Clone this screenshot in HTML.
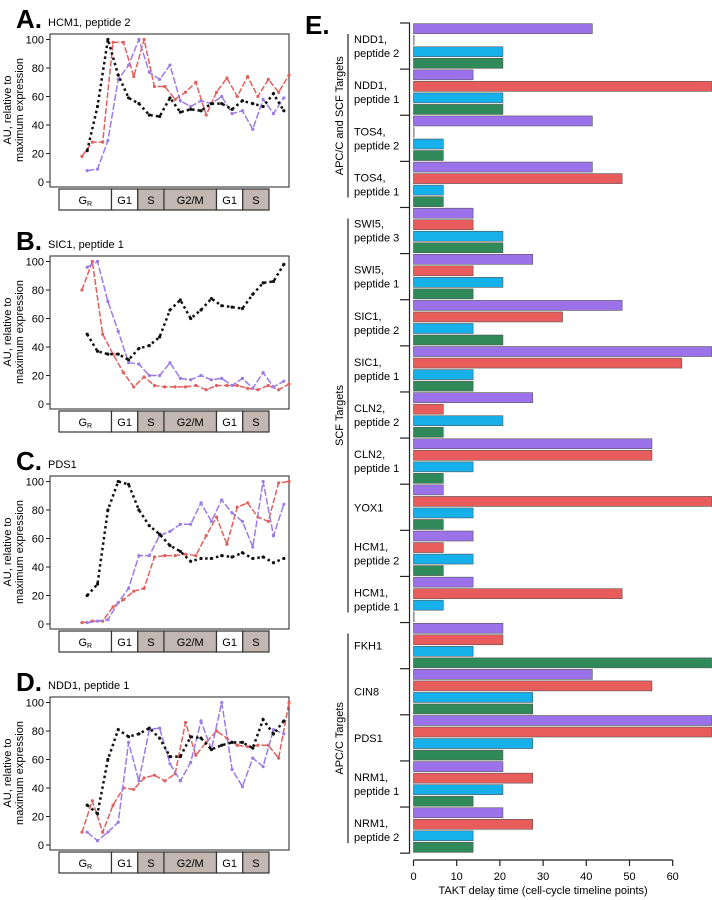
<!DOCTYPE html>
<html><head><meta charset="utf-8"><style>
html,body{margin:0;padding:0;background:#fff;}
svg{display:block;font-family:"Liberation Sans",Arial,sans-serif;}
</style></head><body>
<svg id="fig" width="712" height="900" viewBox="0 0 712 900" xmlns="http://www.w3.org/2000/svg"></svg>
<script>
// ---------- Line panel data (AU relative to maximum expression) ----------
const panelTitles = ["HCM1, peptide 2","SIC1, peptide 1","PDS1","NDD1, peptide 1"];
const panelLetters = ["A.","B.","C.","D."];
const yTicks = [0,20,40,60,80,100];
const phaseLabels = ["G","G1","S","G2/M","G1","S"];
const phaseSpans = [3,1.5,1.5,3,1.5,1.5];
const phaseShaded = [0,0,1,1,0,1];
// series: red starts at time 0, purple and black start at time 0.5
const aRed = [18,28,28,98,98,74,100,67,67,58,63,70,47,63,73,60,74,60,72,63,75];
const aPurple = [8,9,29,72,82,100,77,72,82,57,53,57,55,60,48,50,37,58,48,59];
const aBlack = [22,53,100,75,59,55,47,46,59,49,51,50,55,55,51,57,55,53,62,50];
const bRed = [80,100,49,35,22,12,19,13,12,12,12,13,10,13,13,13,11,10,13,10,14];
const bPurple = [96,100,72,51,29,28,20,20,29,18,17,20,17,18,13,18,11,22,12,16];
const bBlack = [49,37,35,35,31,39,41,47,66,73,60,66,74,69,68,67,77,85,86,98];
const cRed = [1,2,2,12,17,23,25,47,48,48,49,48,62,75,56,82,85,75,72,99,100];
const cPurple = [1,2,3,15,25,48,48,62,65,70,70,85,72,87,78,72,54,100,62,84];
const cBlack = [20,28,80,100,98,80,69,63,55,51,44,46,46,48,47,50,46,47,43,46];
const dRed = [9,31,9,28,40,39,47,49,45,50,86,63,72,80,75,70,69,70,70,61,100];
const dPurple = [9,3,9,16,72,45,81,82,57,45,58,87,67,100,53,41,61,55,81,78];
const dBlack = [28,22,60,81,76,78,82,75,62,62,76,75,67,70,72,72,68,88,78,87];

// ---------- Bar chart data (TAKT delay time) ----------
const groupLabels = [["NDD1,","peptide 2"],["NDD1,","peptide 1"],["TOS4,","peptide 2"],["TOS4,","peptide 1"],
 ["SWI5,","peptide 3"],["SWI5,","peptide 1"],["SIC1,","peptide 2"],["SIC1,","peptide 1"],["CLN2,","peptide 2"],
 ["CLN2,","peptide 1"],["YOX1"],["HCM1,","peptide 2"],["HCM1,","peptide 1"],["FKH1"],["CIN8"],["PDS1"],
 ["NRM1,","peptide 1"],["NRM1,","peptide 2"]];
const purpleDelay = [41.4,13.8,41.4,41.4,13.8,27.6,48.3,69,27.6,55.2,6.9,13.8,13.8,20.7,41.4,69,20.7,20.7];
const redDelay    = [0,69,0,48.3,13.8,13.8,34.5,62.1,6.9,55.2,69,6.9,48.3,20.7,55.2,69,27.6,27.6];
const blueDelay   = [20.7,20.7,6.9,6.9,20.7,20.7,13.8,13.8,20.7,13.8,13.8,13.8,6.9,13.8,27.6,27.6,20.7,13.8];
const greenDelay  = [20.7,20.7,6.9,6.9,20.7,13.8,20.7,13.8,6.9,6.9,6.9,6.9,0,69,27.6,20.7,13.8,13.8];
const xTicks = [0,10,20,30,40,50,60];
const sections = [["APC/C and SCF Targets",0,4],["SCF Targets",4,13],["APC/C Targets",13,18]];

const NS="http://www.w3.org/2000/svg";
const svg=document.getElementById('fig');
function el(tag,attrs,parent,text){const e=document.createElementNS(NS,tag);for(const k in attrs)e.setAttribute(k,attrs[k]);if(text!==undefined)e.textContent=text;(parent||svg).appendChild(e);return e;}

const panelTops=[34,256,476,697];
const seriesSets=[[aRed,aPurple,aBlack],[bRed,bPurple,bBlack],[cRed,cPurple,cBlack],[dRed,dPurple,dBlack]];
const FX0=50,FX1=289,X0=82,XSTEP=10.35;
panelTops.forEach((top,p)=>{
  const g=el('g',{});
  
  
  const bottom=top+153, y100=top+5.5, y0=top+148;
  const ys=v=>y0-(y0-y100)*v/100;
  const xs=t=>X0+t*XSTEP;
  const L=el('text',{x:16,y:top-6,'font-size':26,'font-weight':'bold'},g,panelLetters[p]);
  
  const T=el('text',{x:48,y:top-8,'font-size':11},g,panelTitles[p]);
  
  const yl=el('text',{transform:`translate(11,${top+76}) rotate(-90)`,'text-anchor':'middle','font-size':11},g);
  
  el('tspan',{x:0,dy:0},yl,'AU, relative to');el('tspan',{x:0,dy:12},yl,'maximum expression');
  el('rect',{x:FX0,y:top,width:FX1-FX0,height:153,fill:'none',stroke:'#222','stroke-width':1},g);
  yTicks.forEach(v=>{
    el('line',{x1:FX0-4,x2:FX0,y1:ys(v),y2:ys(v),stroke:'#222'},g);
    const t=el('text',{x:FX0-6,y:ys(v)+4,'text-anchor':'end','font-size':11},g,String(v));
    
  });
  // phase bar
  let px=59; const unit=(269-59)/12;
  phaseLabels.forEach((lab,i)=>{
    const w=phaseSpans[i]*unit;
    const r=el('rect',{x:px,y:bottom+2,width:w,height:21,fill:phaseShaded[i]?'#c3b7b1':'#fff',stroke:'#333','stroke-width':1.2},g);
    
    const t=el('text',{x:px+w/2,y:bottom+17,'text-anchor':'middle','font-size':11},g,lab);
    if(i===0){el('tspan',{'font-size':7,dy:2},t,'R');}
    px+=w;
  });
  const [red,purple,black]=seriesSets[p];
  const draw=(arr,start,color,w,dash,name)=>{
    const pts=arr.map((v,i)=>xs(start+i).toFixed(1)+','+ys(v).toFixed(1)).join(' ');
    const pl=el('polyline',{points:pts,fill:'none',stroke:color,'stroke-width':w,'stroke-dasharray':dash},g);
    
    arr.forEach((v,i)=>el('circle',{cx:xs(start+i),cy:ys(v),r:1.6,fill:color},g));
  };
  draw(red,0,'#e0605e',1.5,'6,2','series-red');
  draw(purple,0.5,'#9c7ce2',1.5,'7,2','series-purple');
  draw(black,0.5,'#111',2.5,'2.5,3','series-black');
});

// ---------- Bar chart ----------
const bc=el('g',{});
const BX0=413.5,BSC=4.32,BTOP=23,STEP=11.53,BH=10;
const bx=v=>BX0+v*BSC;
el('text',{x:305,y:34,'font-size':26,'font-weight':'bold'},bc,'E.');
const colors=['#9c72ea','#e85c5c','#16b0ea','#2f8958'];
const series=[purpleDelay,redDelay,blueDelay,greenDelay];
const names=['purple','red','blue','green'];
groupLabels.forEach((lab,gi)=>{
  const gy=BTOP+gi*4*STEP;
  series.forEach((arr,si)=>{
    const v=arr[gi];
    const r=el('rect',{x:BX0,y:gy+si*STEP+0.7,width:Math.max(bx(v)-BX0,0.8),height:BH,fill:colors[si],stroke:v>0?'#555':'#888','stroke-width':0.6},bc);
    
  });
  const cy=gy+2*STEP;
  const t=el('text',{x:354,y:lab.length>1?cy-3:cy+4,'font-size':11},bc);
  
  lab.forEach((s,i)=>el('tspan',{x:354,dy:i?14:0},t,s));
});
for(let gi=0;gi<=groupLabels.length;gi++){const y=BTOP+gi*4*STEP;el('line',{x1:400,x2:410,y1:y,y2:y,stroke:'#222','stroke-width':1.2},bc);}
el('line',{x1:409.5,x2:409.5,y1:BTOP,y2:BTOP+72*STEP,stroke:'#222','stroke-width':1.2},bc);
sections.forEach(([name,a,b])=>{
  const y1=BTOP+a*4*STEP+11,y2=BTOP+b*4*STEP-10;
  el('line',{x1:348,x2:348,y1:y1,y2:y2,stroke:'#222','stroke-width':1.2},bc);
  const t=el('text',{transform:`translate(343,${(y1+y2)/2}) rotate(-90)`,'text-anchor':'middle','font-size':11},bc,name);
  
});
const AXY=860;
el('line',{x1:bx(0),x2:bx(60),y1:AXY,y2:AXY,stroke:'#222','stroke-width':1.2},bc);
xTicks.forEach(v=>{
  el('line',{x1:bx(v),x2:bx(v),y1:AXY,y2:AXY+6,stroke:'#222','stroke-width':1.2},bc);
  const t=el('text',{x:bx(v),y:AXY+20,'text-anchor':'middle','font-size':11},bc,String(v));
  
});
const xt=el('text',{x:bx(30),y:894,'text-anchor':'middle','font-size':11},bc,'TAKT delay time (cell-cycle timeline points)');

</script>
</body></html>
